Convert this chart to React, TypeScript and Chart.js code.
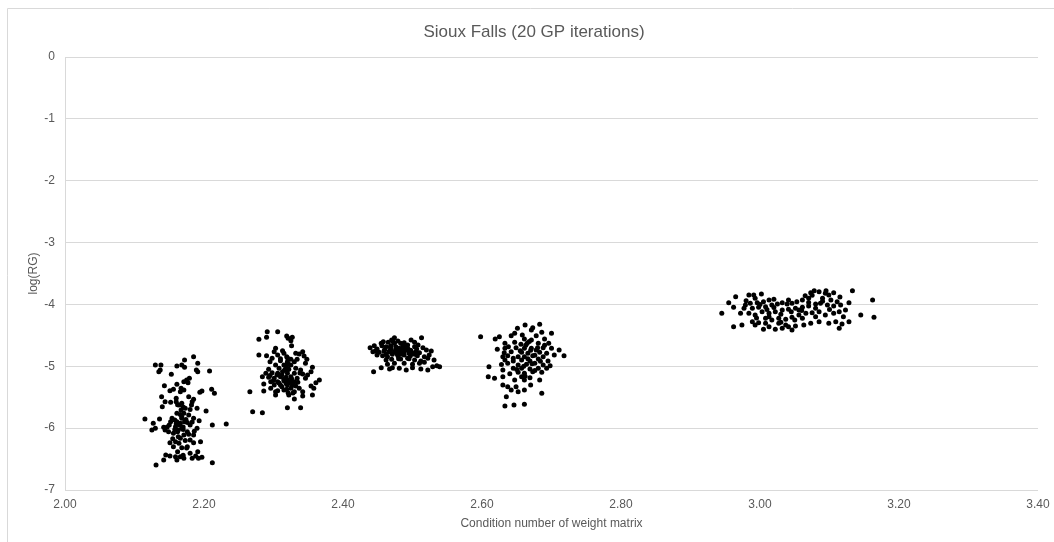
import React, { useEffect, useRef } from "react";
import { Chart, registerables } from "chart.js";

Chart.register(...registerables);

const chartTitle = "Sioux Falls (20 GP iterations)";
const xAxisTitle = "Condition number of weight matrix";
const yAxisTitle = "log(RG)";

const xMin = 2.0;
const xMax = 3.4;
const xStep = 0.2;
const yMin = -7;
const yMax = 0;
const yStep = 1;

// [condition number, log(RG)]
const cluster1: [number, number][] = [
  [2.185, -4.845], [2.172, -4.898], [2.191, -4.952], [2.130, -4.979], [2.138, -4.979],
  [2.161, -4.995], [2.168, -4.979], [2.172, -5.017], [2.137, -5.06], [2.135, -5.087],
  [2.189, -5.06], [2.191, -5.087], [2.208, -5.076], [2.153, -5.13], [2.179, -5.195],
  [2.175, -5.222], [2.171, -5.249], [2.177, -5.265], [2.143, -5.313], [2.161, -5.292],
  [2.156, -5.372], [2.151, -5.394], [2.167, -5.356], [2.171, -5.383], [2.166, -5.41],
  [2.197, -5.399], [2.194, -5.421], [2.211, -5.372], [2.215, -5.437], [2.139, -5.491],
  [2.160, -5.518], [2.178, -5.491], [2.185, -5.534], [2.144, -5.572], [2.152, -5.583],
  [2.160, -5.572], [2.164, -5.626], [2.168, -5.599], [2.183, -5.572], [2.182, -5.626],
  [2.140, -5.653], [2.173, -5.68], [2.167, -5.707], [2.190, -5.68], [2.203, -5.723],
  [2.161, -5.76], [2.171, -5.76], [2.168, -5.814], [2.178, -5.787], [2.154, -5.841],
  [2.158, -5.868], [2.115, -5.852], [2.136, -5.852], [2.185, -5.841], [2.193, -5.879],
  [2.127, -5.922], [2.152, -5.895], [2.161, -5.895], [2.166, -5.922], [2.172, -5.895],
  [2.180, -5.949], [2.212, -5.949], [2.232, -5.933], [2.130, -6.003], [2.125, -6.03],
  [2.142, -5.987], [2.144, -6.03], [2.149, -6.057], [2.159, -5.976], [2.163, -6.03],
  [2.168, -6.003], [2.176, -6.057], [2.190, -6.003], [2.156, -6.084], [2.171, -6.111],
  [2.185, -6.111], [2.166, -6.165], [2.180, -6.192], [2.151, -6.235], [2.159, -6.219],
  [2.164, -6.246], [2.185, -6.235], [2.195, -6.219], [2.156, -6.299], [2.168, -6.315],
  [2.176, -6.299], [2.191, -6.38], [2.145, -6.434], [2.151, -6.45], [2.159, -6.461],
  [2.166, -6.461], [2.180, -6.407], [2.188, -6.45], [2.192, -6.488], [2.197, -6.472],
  [2.142, -6.515], [2.161, -6.515], [2.171, -6.488], [2.183, -6.488], [2.212, -6.558],
  [2.131, -6.596], [2.165, -5.95], [2.170, -5.98], [2.162, -6.06], [2.174, -5.86],
  [2.168, -5.84], [2.176, -5.91], [2.160, -5.93], [2.170, -6.02], [2.178, -6.10],
  [2.163, -6.14], [2.158, -6.02], [2.173, -6.20], [2.166, -5.78], [2.180, -5.70],
  [2.170, -5.66], [2.162, -5.62], [2.150, -5.95], [2.186, -6.05], [2.175, -6.32],
  [2.162, -6.38], [2.170, -6.44], [2.155, -6.17], [2.147, -5.98], [2.183, -5.90],
];

const cluster2: [number, number][] = [
  [2.291, -4.44], [2.306, -4.44], [2.279, -4.564], [2.290, -4.532], [2.319, -4.51],
  [2.327, -4.532], [2.321, -4.548], [2.325, -4.586], [2.326, -4.667], [2.303, -4.71],
  [2.301, -4.764], [2.313, -4.747], [2.279, -4.817], [2.290, -4.828], [2.306, -4.817],
  [2.315, -4.79], [2.319, -4.844], [2.332, -4.79], [2.337, -4.801], [2.342, -4.764],
  [2.344, -4.834], [2.298, -4.871], [2.325, -4.887], [2.334, -4.887], [2.348, -4.887],
  [2.295, -4.925], [2.310, -4.909], [2.320, -4.925], [2.330, -4.925], [2.303, -4.979],
  [2.315, -4.979], [2.325, -4.979], [2.346, -4.952], [2.356, -5.017], [2.293, -5.049],
  [2.308, -5.033], [2.318, -5.017], [2.322, -5.049], [2.332, -5.033], [2.339, -5.06],
  [2.354, -5.087], [2.289, -5.114], [2.298, -5.103], [2.306, -5.114], [2.313, -5.087],
  [2.320, -5.114], [2.330, -5.114], [2.342, -5.125], [2.349, -5.141], [2.284, -5.168],
  [2.293, -5.179], [2.301, -5.195], [2.310, -5.168], [2.318, -5.179], [2.325, -5.168],
  [2.334, -5.195], [2.346, -5.195], [2.296, -5.249], [2.306, -5.249], [2.315, -5.233],
  [2.322, -5.265], [2.330, -5.249], [2.366, -5.222], [2.361, -5.265], [2.286, -5.286],
  [2.301, -5.302], [2.310, -5.302], [2.320, -5.302], [2.332, -5.319], [2.354, -5.319],
  [2.296, -5.356], [2.325, -5.356], [2.337, -5.356], [2.358, -5.356], [2.286, -5.399],
  [2.306, -5.394], [2.315, -5.383], [2.330, -5.41], [2.342, -5.41], [2.266, -5.41],
  [2.303, -5.464], [2.322, -5.464], [2.342, -5.48], [2.356, -5.464], [2.330, -5.529],
  [2.320, -5.669], [2.339, -5.669], [2.270, -5.734], [2.284, -5.75], [2.320, -4.952],
  [2.320, -5.06], [2.320, -5.222], [2.319, -5.372], [2.321, -5.426], [2.312, -5.14],
  [2.305, -5.14], [2.315, -5.21], [2.325, -5.25], [2.318, -5.28], [2.308, -5.27],
  [2.326, -5.20], [2.300, -5.23], [2.312, -5.33], [2.327, -5.31], [2.335, -5.26],
  [2.295, -5.15], [2.316, -5.06], [2.322, -4.97], [2.310, -4.88], [2.320, -4.86],
  [2.338, -5.11], [2.303, -5.41], [2.328, -5.43],
];

const cluster3: [number, number][] = [
  [2.474, -4.537], [2.470, -4.575], [2.479, -4.591], [2.465, -4.613], [2.455, -4.629],
  [2.458, -4.602], [2.483, -4.629], [2.498, -4.575], [2.503, -4.613], [2.513, -4.537],
  [2.445, -4.666], [2.439, -4.699], [2.449, -4.72], [2.462, -4.683], [2.469, -4.666],
  [2.476, -4.683], [2.486, -4.666], [2.493, -4.656], [2.503, -4.683], [2.508, -4.656],
  [2.515, -4.699], [2.443, -4.763], [2.452, -4.774], [2.459, -4.753], [2.467, -4.753],
  [2.474, -4.763], [2.482, -4.753], [2.491, -4.737], [2.498, -4.753], [2.505, -4.763],
  [2.520, -4.737], [2.527, -4.753], [2.449, -4.817], [2.457, -4.828], [2.464, -4.844],
  [2.471, -4.807], [2.479, -4.828], [2.488, -4.817], [2.497, -4.828], [2.507, -4.828],
  [2.517, -4.844], [2.524, -4.817], [2.462, -4.898], [2.470, -4.887], [2.483, -4.882],
  [2.493, -4.871], [2.503, -4.898], [2.512, -4.914], [2.522, -4.871], [2.531, -4.898],
  [2.464, -4.968], [2.474, -4.952], [2.488, -4.952], [2.500, -4.968], [2.510, -4.952],
  [2.517, -4.936], [2.529, -5.006], [2.535, -4.99], [2.539, -5.006], [2.444, -5.087],
  [2.455, -5.022], [2.467, -5.044], [2.481, -5.033], [2.491, -5.06], [2.500, -5.022],
  [2.512, -5.044], [2.522, -5.06], [2.471, -5.022], [2.474, -4.629], [2.481, -4.71],
  [2.488, -4.763], [2.495, -4.79], [2.483, -4.807], [2.469, -4.72], [2.479, -4.763],
  [2.503, -4.807], [2.462, -4.807], [2.493, -4.71],
  [2.468, -4.69], [2.476, -4.73], [2.484, -4.78], [2.490, -4.69], [2.466, -4.77],
  [2.497, -4.74], [2.478, -4.80], [2.486, -4.71], [2.460, -4.73], [2.500, -4.79],
  [2.472, -4.60], [2.488, -4.62], [2.506, -4.72], [2.456, -4.67], [2.495, -4.88],
  [2.480, -4.88], [2.510, -4.78], [2.447, -4.75],
];

const cluster4: [number, number][] = [
  [2.662, -4.332], [2.683, -4.322], [2.673, -4.375], [2.651, -4.386], [2.671, -4.413],
  [2.647, -4.467], [2.686, -4.451], [2.700, -4.467], [2.598, -4.521], [2.619, -4.559],
  [2.625, -4.521], [2.642, -4.505], [2.658, -4.494], [2.678, -4.505], [2.661, -4.559],
  [2.671, -4.575], [2.690, -4.559], [2.633, -4.629], [2.647, -4.613], [2.656, -4.645],
  [2.665, -4.629], [2.681, -4.629], [2.696, -4.629], [2.638, -4.683], [2.622, -4.726],
  [2.633, -4.71], [2.649, -4.699], [2.661, -4.71], [2.671, -4.71], [2.678, -4.737],
  [2.688, -4.699], [2.700, -4.71], [2.711, -4.737], [2.642, -4.763], [2.657, -4.774],
  [2.666, -4.79], [2.683, -4.774], [2.693, -4.79], [2.630, -4.844], [2.637, -4.828],
  [2.652, -4.844], [2.661, -4.844], [2.673, -4.828], [2.688, -4.844], [2.704, -4.817],
  [2.718, -4.828], [2.633, -4.898], [2.645, -4.914], [2.657, -4.898], [2.669, -4.914],
  [2.681, -4.882], [2.695, -4.914], [2.637, -4.952], [2.652, -4.979], [2.664, -4.968],
  [2.676, -4.952], [2.688, -4.979], [2.698, -4.99], [2.610, -5.006], [2.645, -5.033],
  [2.657, -5.033], [2.669, -5.044], [2.681, -5.033], [2.693, -5.033], [2.630, -5.06],
  [2.652, -5.098], [2.661, -5.114], [2.673, -5.087], [2.686, -5.098], [2.609, -5.168],
  [2.618, -5.195], [2.630, -5.168], [2.657, -5.168], [2.669, -5.184], [2.647, -5.222],
  [2.661, -5.222], [2.683, -5.222], [2.630, -5.302], [2.637, -5.329], [2.649, -5.329],
  [2.670, -5.302], [2.642, -5.383], [2.652, -5.41], [2.661, -5.383], [2.686, -5.437],
  [2.635, -5.491], [2.633, -5.642], [2.646, -5.626], [2.661, -5.615],
  [2.663, -4.66], [2.670, -4.74], [2.676, -4.82], [2.666, -4.88], [2.672, -4.96],
  [2.660, -5.00], [2.680, -4.70], [2.668, -4.60], [2.655, -4.75], [2.684, -4.92],
  [2.676, -5.07], [2.662, -5.16], [2.645, -4.87], [2.650, -5.05], [2.690, -4.66],
  [2.640, -5.12], [2.628, -4.97], [2.632, -4.78],
];

const cluster5: [number, number][] = [
  [2.945, -4.144], [2.955, -3.971], [2.965, -3.874], [2.962, -4.047], [2.962, -4.359],
  [2.974, -4.332], [2.972, -4.144], [2.979, -4.009], [2.984, -3.847], [2.991, -3.847],
  [2.993, -3.901], [3.002, -3.831], [2.986, -3.982], [2.996, -3.971], [3.005, -3.955],
  [3.013, -3.928], [3.020, -3.917], [2.977, -4.063], [2.989, -4.063], [2.998, -4.047],
  [3.008, -4.036], [3.017, -4.009], [3.025, -3.993], [3.032, -3.971], [3.039, -3.993],
  [3.046, -3.982], [3.053, -3.955], [3.061, -3.928], [3.070, -3.901], [3.073, -3.81],
  [3.078, -3.777], [3.085, -3.794], [3.094, -3.821], [3.099, -3.847], [3.106, -3.81],
  [3.090, -3.901], [3.102, -3.928], [3.111, -3.955], [3.128, -3.971], [3.133, -3.777],
  [3.162, -3.928], [2.984, -4.144], [2.993, -4.171], [3.003, -4.117], [3.013, -4.144],
  [3.022, -4.117], [3.032, -4.09], [3.041, -4.079], [3.051, -4.063], [3.061, -4.047],
  [3.070, -4.025], [3.080, -3.993], [3.087, -3.982], [3.097, -4.009], [3.106, -4.025],
  [3.116, -4.009], [2.989, -4.279], [2.998, -4.295], [3.008, -4.306], [3.017, -4.252],
  [3.027, -4.225], [3.037, -4.241], [3.046, -4.208], [3.056, -4.171], [3.066, -4.144],
  [3.075, -4.133], [3.085, -4.117], [3.094, -4.171], [3.106, -4.144], [3.114, -4.117],
  [3.123, -4.09], [3.145, -4.171], [3.164, -4.208], [2.993, -4.332], [3.013, -4.359],
  [3.022, -4.403], [3.032, -4.386], [3.041, -4.359], [3.051, -4.349], [3.063, -4.332],
  [3.073, -4.306], [3.085, -4.279], [3.099, -4.306], [3.109, -4.279], [3.118, -4.316],
  [3.128, -4.279], [3.114, -4.386], [3.013, -4.198], [3.027, -4.306], [3.061, -4.225],
  [3.080, -4.198], [3.046, -4.413], [3.037, -4.332], [3.008, -4.225], [3.041, -3.928],
  [3.056, -4.09],
  [3.000, -4.00], [3.010, -4.08], [3.020, -4.05], [3.030, -4.16], [3.045, -4.12],
  [3.060, -4.10], [3.070, -3.97], [3.080, -4.06], [3.090, -3.95], [3.100, -4.08],
  [3.075, -3.85], [3.065, -3.86], [3.050, -4.25], [3.030, -4.29], [2.980, -3.94],
  [2.995, -4.22], [3.115, -3.88], [3.120, -4.20], [3.005, -4.40], [3.095, -3.78],
];

const clusters = [cluster1, cluster2, cluster3, cluster4, cluster5];

const FONT = "'Liberation Sans', Arial, sans-serif";
const TEXT = "#595959";
const GRID = "#d9d9d9";

const frameAndTitle = {
  id: "frameAndTitle",
  beforeDraw(chart: any) {
    const ctx = chart.ctx;
    ctx.save();
    ctx.strokeStyle = GRID;
    ctx.lineWidth = 1;
    ctx.beginPath();
    ctx.moveTo(7.5, chart.height);
    ctx.lineTo(7.5, 8.5);
    ctx.lineTo(chart.width, 8.5);
    ctx.stroke();
    ctx.fillStyle = TEXT;
    ctx.font = `17px ${FONT}`;
    ctx.textAlign = "center";
    ctx.textBaseline = "middle";
    ctx.fillText(chartTitle, 534, 32);
    ctx.restore();
  },
};

export default function App() {
  const ref = useRef<HTMLCanvasElement | null>(null);
  useEffect(() => {
    document.body.style.margin = "0";
    const canvas = ref.current;
    if (!canvas) return;
    const chart = new Chart(canvas, {
      type: "scatter",
      data: {
        datasets: clusters.map((c, i) => ({
          label: `group ${i + 1}`,
          data: c.map(([x, y]) => ({ x, y })),
          backgroundColor: "#000000",
          borderColor: "#000000",
          borderWidth: 0,
          pointRadius: 2.5,
          pointHoverRadius: 2.5,
        })),
      },
      options: {
        responsive: false,
        animation: false,
        events: [],
        layout: { padding: { top: 57, right: 16, bottom: 0, left: 0 } },
        plugins: {
          legend: { display: false },
          title: { display: false },
          tooltip: { enabled: false },
        },
        scales: {
          x: {
            type: "linear",
            min: xMin,
            max: xMax,
            afterFit: (s: any) => {
              s.height = 52;
              s.paddingLeft = 0;
              s.paddingRight = 0;
            },
            ticks: {
              stepSize: xStep,
              padding: 7,
              maxRotation: 0,
              color: TEXT,
              font: { family: FONT, size: 12 },
              callback: (v: any) => Number(v).toFixed(2),
            },
            grid: { display: false, drawTicks: false },
            border: { display: false },
            title: {
              display: true,
              text: xAxisTitle,
              color: TEXT,
              font: { family: FONT, size: 12 },
              padding: { top: 0, bottom: 11 },
            },
          },
          y: {
            type: "linear",
            min: yMin,
            max: yMax,
            afterFit: (s: any) => {
              s.width = 65;
            },
            ticks: {
              stepSize: yStep,
              padding: 10,
              color: TEXT,
              font: { family: FONT, size: 12 },
            },
            grid: { color: GRID, lineWidth: 1, drawTicks: false },
            border: { display: true, color: GRID, width: 1 },
            title: {
              display: true,
              text: yAxisTitle,
              color: TEXT,
              font: { family: FONT, size: 12 },
              padding: { top: 26, bottom: 0 },
            },
          },
        },
      },
      plugins: [frameAndTitle],
    });
    return () => chart.destroy();
  }, []);
  return (
    <canvas
      ref={ref}
      width={1054}
      height={542}
      style={{ display: "block", width: 1054, height: 542 }}
    />
  );
}
